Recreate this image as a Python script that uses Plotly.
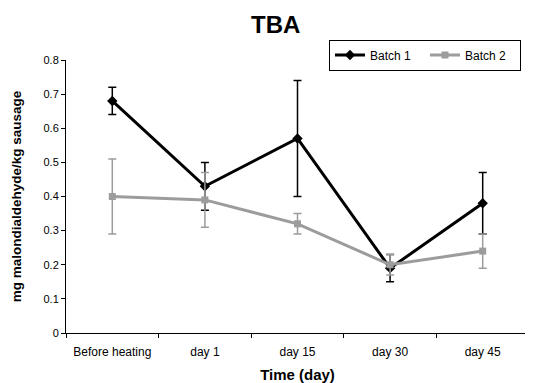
import plotly.graph_objects as go

categories = ["Before heating", "day 1", "day 15", "day 30", "day 45"]
batch1 = [0.68, 0.43, 0.57, 0.19, 0.38]
batch1_up = [0.04, 0.07, 0.17, 0.04, 0.09]
batch1_down = [0.04, 0.07, 0.17, 0.04, 0.09]
batch2 = [0.40, 0.39, 0.32, 0.20, 0.24]
batch2_up = [0.11, 0.08, 0.03, 0.03, 0.05]
batch2_down = [0.11, 0.08, 0.03, 0.03, 0.05]

FONT = "Liberation Sans, Arial, sans-serif"
GRAY = "#9c9c9c"

fig = go.Figure()
fig.add_trace(go.Scatter(
    x=categories, y=batch1, name="Batch 1", mode="lines+markers",
    line=dict(color="black", width=3),
    marker=dict(symbol="diamond", size=8, color="black"),
    error_y=dict(type="data", array=batch1_up, arrayminus=batch1_down,
                 color="black", thickness=1.5, width=4),
))
fig.add_trace(go.Scatter(
    x=categories, y=batch2, name="Batch 2", mode="lines+markers",
    line=dict(color=GRAY, width=3),
    marker=dict(symbol="square", size=7, color=GRAY),
    error_y=dict(type="data", array=batch2_up, arrayminus=batch2_down,
                 color=GRAY, thickness=1.5, width=4),
))

# page body adds an 8px offset, so the figure is 8px smaller than the window
fig.update_layout(
    width=525, height=375,
    margin=dict(l=58, r=4, t=52, b=50, autoexpand=False),
    paper_bgcolor="white", plot_bgcolor="white",
    font=dict(family=FONT, size=12, color="black"),
    title=dict(text="<b>TBA</b>", x=0.51, xanchor="center", y=0.955, yanchor="middle",
               font=dict(size=24, family=FONT)),
    legend=dict(orientation="h", x=0.568, xanchor="left", y=1.075, yanchor="top",
                bordercolor="black", borderwidth=1, bgcolor="white",
                font=dict(size=12), entrywidth=50, tracegroupgap=0),
    xaxis=dict(
        type="category", range=[-0.5, 4.5], tickson="boundaries",
        showline=True, linecolor="black", linewidth=1,
        ticks="outside", ticklen=4, tickcolor="black",
        tickfont=dict(size=12), ticklabelstandoff=8,
        showgrid=False, zeroline=False,
        title=dict(text="<b>Time (day)</b>", font=dict(size=15), standoff=12),
    ),
    yaxis=dict(
        range=[0, 0.8], dtick=0.1, tickformat="~g",
        showline=True, linecolor="black", linewidth=1,
        ticks="outside", ticklen=4, tickcolor="black",
        tickfont=dict(size=11),
        showgrid=False, zeroline=False,
        title=dict(text="<b>mg malondialdehyde/kg sausage</b>", font=dict(size=13.5), standoff=18),
    ),
)

fig.write_html("out.html")
